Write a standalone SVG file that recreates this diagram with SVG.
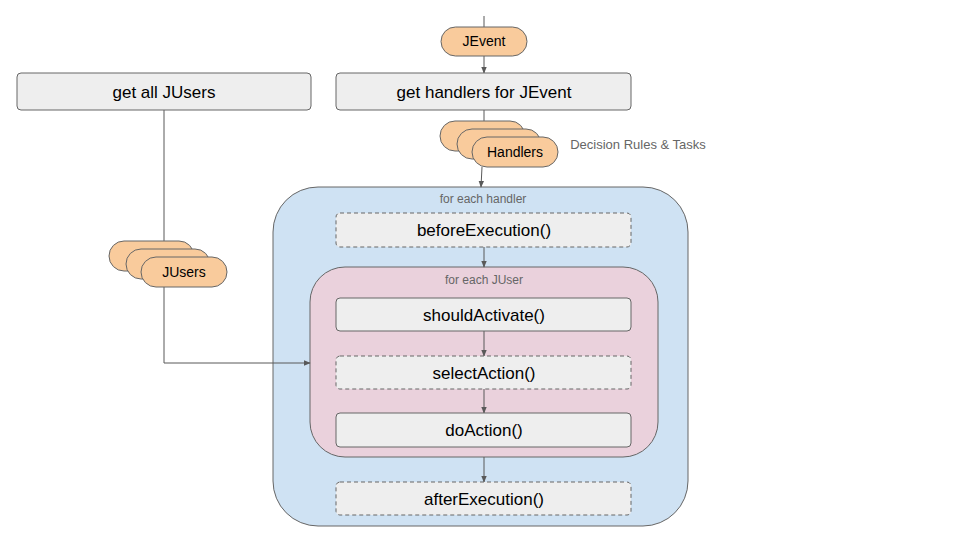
<svg xmlns="http://www.w3.org/2000/svg" width="960" height="540" viewBox="0 0 960 540">
<style>
text{font-family:"Liberation Sans",Arial,sans-serif;text-anchor:middle}
.box{fill:#eeeeee;stroke:#666;stroke-width:1}
.dash{stroke-dasharray:4,3}
.pill{fill:#f9cb9c;stroke:#666;stroke-width:1}
.big{font-size:17px;fill:#000}
.pt{font-size:14px;fill:#000}
.lbl{font-size:12px;fill:#666}
.c{stroke:#595959;stroke-width:1;fill:none}
</style>
<defs><marker id="a" viewBox="0 0 10 10" refX="9" refY="5" markerWidth="7" markerHeight="7" orient="auto"><path d="M0,1 L10,5 L0,9z" fill="#595959"/></marker></defs>
<g id="loop-handler"><rect x="273" y="187" width="415" height="339" rx="45" fill="#cfe2f3" stroke="#666"/><text class="lbl" x="483" y="203">for each handler</text></g>
<g id="loop-juser"><rect x="310" y="267" width="348" height="190" rx="35" fill="#ead1dc" stroke="#666"/><text class="lbl" x="484" y="284">for each JUser</text></g>
<g id="connectors">
<path class="c" d="M484,16 V27"/>
<path class="c" d="M484,56 V73" marker-end="url(#a)"/>
<path class="c" d="M484,110 V121"/>
<path class="c" d="M482,167 L481,187" marker-end="url(#a)"/>
<path class="c" d="M484,247 V267" marker-end="url(#a)"/>
<path class="c" d="M484,331 V356" marker-end="url(#a)"/>
<path class="c" d="M484,389 V413" marker-end="url(#a)"/>
<path class="c" d="M484,457 V482" marker-end="url(#a)"/>
<path class="c" d="M164,110 V241"/>
<path class="c" d="M164,287 V363 H310" marker-end="url(#a)"/>
</g>
<g id="jevent"><rect class="pill" x="441" y="27" width="86" height="29" rx="14.5"/><text class="pt" x="484" y="46">JEvent</text></g>
<g id="getjusers"><rect class="box" x="17" y="73" width="294" height="37" rx="4"/><text class="big" x="164" y="98">get all JUsers</text></g>
<g id="gethandlers"><rect class="box" x="336" y="73" width="295" height="37" rx="4"/><text class="big" x="484" y="98">get handlers for JEvent</text></g>
<g id="handlers">
<rect class="pill" x="440" y="121" width="85" height="30" rx="15"/>
<rect class="pill" x="457" y="129" width="84" height="30" rx="15"/>
<rect class="pill" x="472" y="137" width="86" height="30" rx="15"/>
<text class="pt" x="515" y="157">Handlers</text>
</g>
<text class="lbl" x="638" y="149" style="font-size:13px">Decision Rules &amp; Tasks</text>
<g id="jusers">
<rect class="pill" x="109" y="241" width="85" height="30" rx="15"/>
<rect class="pill" x="126" y="249" width="84" height="30" rx="15"/>
<rect class="pill" x="141" y="257" width="86" height="30" rx="15"/>
<text class="pt" x="184" y="277">JUsers</text>
</g>
<g id="before"><rect class="box dash" x="336" y="213" width="295" height="34" rx="4"/><text class="big" x="484" y="236">beforeExecution()</text></g>
<g id="should"><rect class="box" x="336" y="298" width="295" height="33" rx="4"/><text class="big" x="484" y="321">shouldActivate()</text></g>
<g id="select"><rect class="box dash" x="336" y="356" width="295" height="33" rx="4"/><text class="big" x="484" y="379">selectAction()</text></g>
<g id="do"><rect class="box" x="336" y="413" width="295" height="34" rx="4"/><text class="big" x="484" y="436">doAction()</text></g>
<g id="after"><rect class="box dash" x="336" y="482" width="295" height="33" rx="4"/><text class="big" x="484" y="505">afterExecution()</text></g>
</svg>
